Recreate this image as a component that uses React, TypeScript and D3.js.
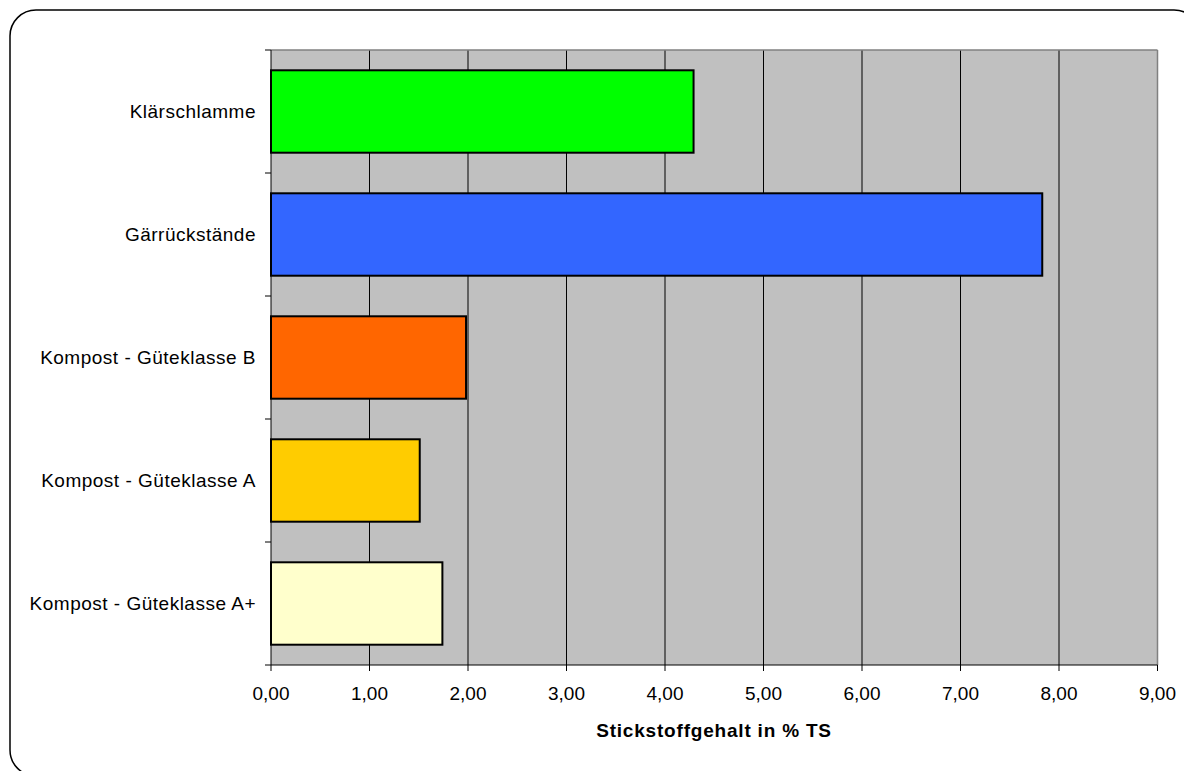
import React from "react";
import * as d3 from "d3";

const categories = [
  "Klärschlamme",
  "Gärrückstände",
  "Kompost - Güteklasse B",
  "Kompost - Güteklasse A",
  "Kompost - Güteklasse A+",
];
const values = [4.29, 7.83, 1.98, 1.51, 1.74];
const colors = ["#00FF00", "#3366FF", "#FF6600", "#FFCC00", "#FFFFCC"];
const xTicks = [0, 1, 2, 3, 4, 5, 6, 7, 8, 9];
const xTitle = "Stickstoffgehalt in % TS";

export default function App() {
  const W = 1184, H = 771;
  const left = 271, right = 1157.5, top = 50, bottom = 665;
  const x = d3.scaleLinear().domain([0, 9]).range([left, right]);
  const y = d3.scaleBand<string>().domain(categories).range([top, bottom]).paddingInner(0.33).paddingOuter(0.165);
  const step = y.step();
  const fmt = (v: number) => v.toFixed(2).replace(".", ",");
  const font = "'Liberation Sans', Arial, sans-serif";
  return (
    <svg width={W} height={H} style={{ position: "absolute", left: 0, top: 0, display: "block" }} fontFamily={font}>
      <rect x={10} y={10} width={1190} height={766} rx={26} ry={26} fill="#fff" stroke="#000" strokeWidth={1.5} />
      <rect x={left} y={top} width={right - left} height={bottom - top} fill="#C0C0C0" />
      {xTicks.slice(1, -1).map((t) => (
        <line key={t} x1={x(t)} x2={x(t)} y1={top} y2={bottom} stroke="#000" strokeWidth={1} />
      ))}
      <line x1={left} x2={right} y1={top} y2={top} stroke="#808080" strokeWidth={1.5} />
      <line x1={right} x2={right} y1={top} y2={bottom} stroke="#808080" strokeWidth={1.5} />
      {categories.map((c, i) => (
        <rect key={c} x={x(0)} y={y(c)!} width={x(values[i]) - x(0)} height={y.bandwidth()} fill={colors[i]} stroke="#000" strokeWidth={2} />
      ))}
      <line x1={left} x2={left} y1={top} y2={bottom} stroke="#000" strokeWidth={1} />
      <line x1={left} x2={right} y1={bottom} y2={bottom} stroke="#000" strokeWidth={1} />
      {categories.map((c, i) => (
        <line key={"yt" + i} x1={left - 6} x2={left} y1={top + step * i} y2={top + step * i} stroke="#000" />
      ))}
      <line x1={left - 6} x2={left} y1={bottom} y2={bottom} stroke="#000" />
      {xTicks.map((t) => (
        <g key={"xt" + t}>
          <line x1={x(t)} x2={x(t)} y1={bottom} y2={bottom + 6} stroke="#000" />
          <text x={x(t)} y={700} textAnchor="middle" fontSize={19} fill="#000">{fmt(t)}</text>
        </g>
      ))}
      {categories.map((c) => (
        <text key={"l" + c} x={256} y={y(c)! + y.bandwidth() / 2 + 6} textAnchor="end" fontSize={19} letterSpacing={0.5} fill="#000">{c}</text>
      ))}
      <text x={714} y={737} textAnchor="middle" fontSize={19} fontWeight="bold" letterSpacing={0.8} fill="#000">{xTitle}</text>
    </svg>
  );
}
